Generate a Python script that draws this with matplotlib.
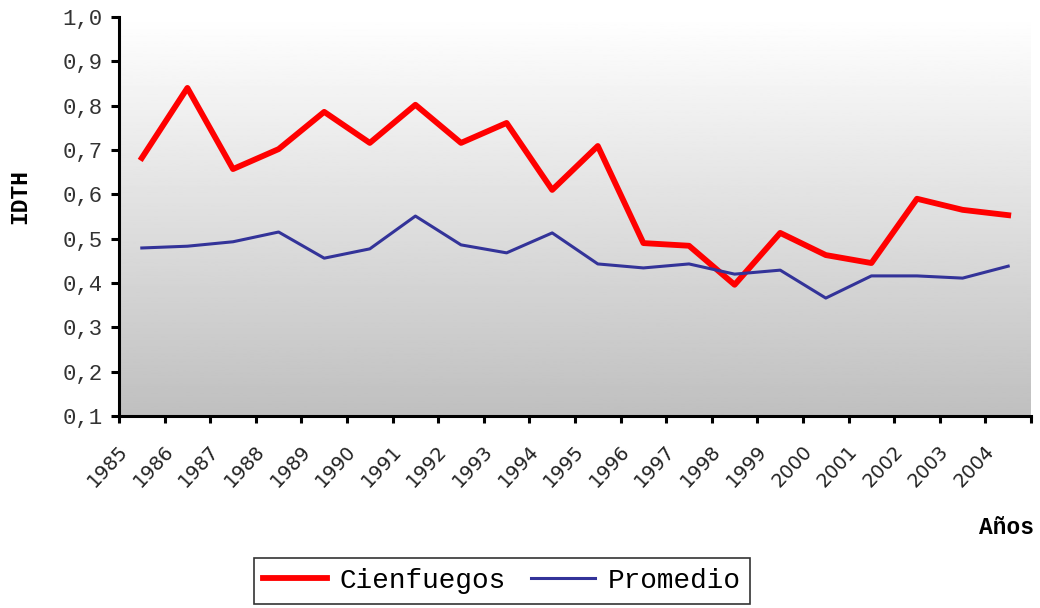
import numpy as np
import matplotlib
matplotlib.use("Agg")
import matplotlib.pyplot as plt
import matplotlib.transforms as mtransforms

# data
years = [str(y) for y in range(1985, 2005)]
cienfuegos = [0.682, 0.840, 0.657, 0.702, 0.786, 0.716, 0.802, 0.716, 0.761, 0.610,
              0.709, 0.490, 0.484, 0.396, 0.513, 0.463, 0.445, 0.590, 0.565, 0.553]
promedio = [0.479, 0.483, 0.493, 0.515, 0.456, 0.477, 0.551, 0.486, 0.468, 0.513,
            0.443, 0.434, 0.443, 0.420, 0.429, 0.366, 0.416, 0.416, 0.411, 0.438]
y_ticks = [0.1, 0.2, 0.3, 0.4, 0.5, 0.6, 0.7, 0.8, 0.9, 1.0]
y_ticklabels = ["0,1", "0,2", "0,3", "0,4", "0,5", "0,6", "0,7", "0,8", "0,9", "1,0"]

mono = "Liberation Mono"

fig = plt.figure(figsize=(10.4, 6.08), dpi=100)
ax = fig.add_axes([119 / 1040, 1 - 416 / 608, 912 / 1040, 399 / 608])

# gradient background white -> grey
grad = np.linspace(1.0, 0.75, 256).reshape(-1, 1)
ax.imshow(grad, cmap="gray", vmin=0, vmax=1, aspect="auto",
          extent=[0, 1, 0, 1], transform=ax.transAxes, zorder=0)

x = np.arange(len(years))
ax.plot(x, cienfuegos, color="#ff0000", lw=4.2, label="Cienfuegos", zorder=3)
ax.plot(x, promedio, color="#333399", lw=2.2, label="Promedio", zorder=3)

ax.set_xlim(-0.5, len(years) - 0.5)
ax.set_ylim(0.1, 1.0)

for s in ["top", "right"]:
    ax.spines[s].set_visible(False)
for s in ["left", "bottom"]:
    ax.spines[s].set_linewidth(2.2)
    ax.spines[s].set_zorder(4)

ax.set_yticks(y_ticks)
ax.set_yticklabels(y_ticklabels, fontfamily=mono, fontsize=16, color="#333333")
ax.tick_params(axis="y", direction="out", length=6, width=2.2, pad=6)

# category labels at centres, tick marks at boundaries
ax.set_xticks(x)
ax.set_xticklabels(years, rotation=47, ha="right", va="center",
                   rotation_mode="anchor", fontsize=14, color="#222222")
ax.tick_params(axis="x", which="major", length=0, pad=0)
ax.set_xticks(np.arange(-0.5, len(years)), minor=True)
ax.tick_params(axis="x", which="minor", direction="out", length=5, width=2.2)
off = mtransforms.ScaledTranslation(-17 / 100, -32 / 100, fig.dpi_scale_trans)
for lbl in ax.get_xticklabels():
    lbl.set_transform(lbl.get_transform() + off)

fig.text(20 / 1040, 1 - 197 / 608, "IDTH", rotation=90, ha="center", va="center",
         fontfamily=mono, fontweight="bold", fontsize=16.5)
fig.text(1034 / 1040, 1 - 527 / 608, "Años", ha="right", va="center",
         fontfamily=mono, fontweight="bold", fontsize=16.5)

leg = fig.legend(loc="center", bbox_to_anchor=(502 / 1040, 1 - 581 / 608),
                 ncol=2, prop={"family": mono, "size": 20}, frameon=True,
                 fancybox=False, edgecolor="black", handlelength=2.3,
                 columnspacing=0.9, handletextpad=0.45, borderpad=0.35)
leg.get_frame().set_linewidth(1.2)

fig.savefig("out.png", dpi=100)
